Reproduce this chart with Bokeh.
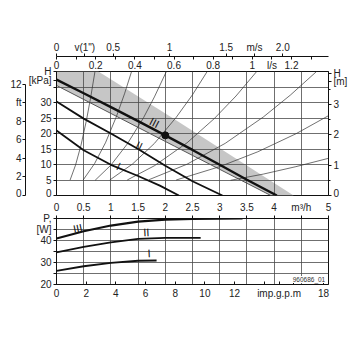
from bokeh.plotting import figure
from bokeh.models import Range1d, LinearAxis, FixedTicker, Label
from bokeh.layouts import column
from bokeh.embed import file_html
from bokeh.resources import INLINE
from bokeh.core.properties import value

FONT = "Liberation Sans"
FS = "10px"
INK = "#111111"

# ---------------- data ----------------
flow_ticks = [0, 0.5, 1, 1.5, 2, 2.5, 3, 3.5, 4, 4.5, 5]
flow_labels = ["0", "0.5", "1", "1.5", "2", "2.5", "3", "3.5", "4", "m³/h", "5"]
kpa_grid = [0, 5, 10, 15, 20, 25, 30, 35, 40]
kpa_ticks = [0, 5, 10, 15, 20, 25, 30, 35, 37, 40]
kpa_labels = ["0", "5", "10", "15", "20", "25", "30", "", "[kPa]", "H"]
ft_ticks = [0, 2, 4, 6, 8, 10, 12]
ft_labels = ["0", "2", "4", "6", "8", "ft", "12"]
m_ticks = [0, 1, 2, 3, 3.75, 4]
m_labels = ["0", "1", "2", "3", "[m]", "H"]
m_minor = [0.5, 1.5, 2.5, 3.5]
ls_ticks = [0, 0.2, 0.4, 0.6, 0.8, 1.0, 1.1, 1.2]
ls_labels = ["0", "0.2", "0.4", "0.6", "0.8", "1", "l/s", "1.2"]
ls_marks = [0, 0.1, 0.2, 0.3, 0.4, 0.5, 0.6, 0.7, 0.8, 0.9, 1.0, 1.1, 1.2, 1.3]
ms_ticks = [0, 0.25, 0.5, 1, 1.5, 1.75, 2]
ms_labels = ["0", 'v(1")', "0.5", "1", "1.5", "m/s", "2.0"]
p_ticks = [20, 25, 30, 35, 40, 45, 50]
p_labels = ["20", "", "30", "", "40", "[W]", "P,"]
gpm_ticks = [0, 2, 4, 6, 8, 10, 12, 14, 15, 16, 18]
gpm_labels = ["0", "2", "4", "6", "8", "10", "12", "", "imp.g.p.m", "", "18"]

# pump curves H [kPa] vs Q [m3/h]
q_III = [0, 0.5, 1.0, 1.5, 2.0, 2.5, 3.0, 3.5, 4.05]
h_III = [37.4, 33.0, 28.5, 24.0, 19.4, 14.7, 9.9, 5.1, 0]
q_II = [0, 0.5, 1.0, 1.5, 2.0, 2.5, 3.05]
h_II = [30.3, 24.8, 20.0, 15.0, 9.6, 4.6, 0]
q_I = [0, 0.5, 1.0, 1.5, 1.9, 2.25]
h_I = [21.0, 14.6, 9.9, 6.3, 3.2, 0]

# grey band
band_q = [0, 0.77, 2.17, 4.36, 3.94, 2.17, 0]
band_h = [40, 40, 24.6, 0, 0, 15.9, 35.5]
band_low_q = [0, 2.17, 3.94]
band_low_h = [35.5, 15.9, 0]

duty_q = [2.0]
duty_h = [19.4]

# thin system curves
sys_q = [
    [0.25, 0.35, 0.45, 0.55, 0.63, 0.707],
    [0.49, 0.7, 0.9, 1.1, 1.25, 1.38],
    [0.71, 1.0, 1.3, 1.6, 1.8, 2.02],
    [0.98, 1.4, 1.8, 2.2, 2.5, 2.77],
    [1.3, 1.8, 2.4, 2.9, 3.3, 3.68],
    [1.7, 2.4, 3.1, 3.8, 4.3, 4.78],
    [2.2, 3.0, 3.7, 4.4, 5.0],
    [3.2, 3.8, 4.4, 5.0],
]
sys_h = [
    [5.0, 9.8, 16.2, 24.2, 31.8, 40],
    [5.0, 10.3, 17.0, 25.4, 32.8, 40],
    [4.9, 9.8, 16.6, 25.1, 31.8, 40],
    [5.0, 10.2, 16.8, 25.2, 32.5, 40],
    [5.0, 9.6, 17.0, 24.8, 32.1, 40],
    [5.1, 10.1, 16.8, 25.3, 32.4, 40],
    [5.0, 9.3, 14.1, 19.9, 25.75],
    [4.9, 6.9, 9.3, 12.0],
]

lab_up_q = [1.8, 1.52, 1.14]
lab_up_h = [23.5, 16.1, 9.5]
lab_txt = ["III", "II", "I"]

# power curves P [W] vs Q [m3/h]
qp_III = [0, 0.5, 1.0, 1.5, 2.0, 2.5, 3.0, 3.42]
p_III = [40.9, 44.2, 46.8, 48.6, 49.5, 49.8, 49.9, 50.0]
qp_II = [0, 0.5, 1.0, 1.5, 2.0, 2.65]
p_II = [34.6, 37.1, 39.1, 40.7, 41.2, 41.2]
qp_I = [0, 0.5, 1.0, 1.5, 1.84]
p_I = [26.2, 28.3, 29.8, 30.8, 30.9]
lab_lo_q = [0.39, 1.65, 1.7]
lab_lo_p = [45.6, 43.8, 34.2]

code_txt = "960686_01"
code_q, code_p = 4.94, 22.3

# unit conversions
KPA_PER_FT = 2.989
KPA_PER_M = 9.807
M3H_PER_LS = 3.6
M3H_PER_MS = 2.08
M3H_PER_GPM = 0.2728


def style(ax, tick_out=3, tick_in=0, standoff=3, minor_out=0, minor_in=0, line=True, fs=FS):
    ax.axis_line_color = INK if line else None
    ax.axis_line_width = 1
    ax.major_tick_line_color = INK
    ax.minor_tick_line_color = INK
    ax.major_tick_out = tick_out
    ax.major_tick_in = tick_in
    ax.minor_tick_out = minor_out
    ax.minor_tick_in = minor_in
    ax.major_label_standoff = standoff
    ax.major_label_text_font = FONT
    ax.major_label_text_font_size = fs
    ax.major_label_text_color = "#222222"


def spacer(size, **rng):
    ax = LinearAxis(ticker=FixedTicker(ticks=[]), **rng)
    ax.axis_line_color = None
    ax.major_tick_line_color = None
    ax.minor_tick_line_color = None
    ax.major_tick_out = size
    ax.major_tick_in = 0
    ax.minor_tick_out = 0
    ax.minor_tick_in = 0
    ax.major_label_standoff = 0
    return ax


# ---------------- upper figure: head ----------------
up = figure(width=350, height=198, x_range=Range1d(0, 5), y_range=Range1d(0, 40),
            x_axis_location=None, y_axis_location="left",
            output_backend="svg", toolbar_location=None,
            min_border_left=56, min_border_right=20, min_border_top=71, min_border_bottom=3)
up.outline_line_color = INK
up.outline_line_width = 1
up.background_fill_color = "white"
up.border_fill_color = "white"
up.extra_y_ranges = {"ft": Range1d(0, 40 / KPA_PER_FT), "m": Range1d(0, 40 / KPA_PER_M)}
up.extra_x_ranges = {"ls": Range1d(0, 5 / M3H_PER_LS), "ms": Range1d(0, 5 / M3H_PER_MS)}

up.xgrid.ticker = FixedTicker(ticks=flow_ticks)
up.ygrid.ticker = FixedTicker(ticks=kpa_grid)
up.grid.grid_line_color = "#4a4a4a"
up.grid.grid_line_width = 0.8

kpa_ax = up.yaxis[0]
style(kpa_ax, standoff=2)
kpa_ax.ticker = FixedTicker(ticks=kpa_ticks)
kpa_ax.major_label_overrides = dict(zip(kpa_ticks, kpa_labels))

up.add_layout(spacer(4, y_range_name="ft"), "left")

ft_ax = LinearAxis(y_range_name="ft", ticker=FixedTicker(ticks=ft_ticks), bounds=(0, 12))
style(ft_ax, standoff=1)
ft_ax.major_label_overrides = dict(zip(ft_ticks, ft_labels))
up.add_layout(ft_ax, "left")

m_ax = LinearAxis(y_range_name="m", ticker=FixedTicker(ticks=m_ticks, minor_ticks=m_minor))
style(m_ax, standoff=2, minor_out=2)
m_ax.major_label_overrides = dict(zip(m_ticks, m_labels))
up.add_layout(m_ax, "right")

ls_ax = LinearAxis(x_range_name="ls", ticker=FixedTicker(ticks=ls_ticks))
style(ls_ax, tick_out=0, standoff=1, line=False)
ls_ax.major_tick_line_color = None
ls_ax.major_label_overrides = dict(zip(ls_ticks, ls_labels))
up.add_layout(ls_ax, "above")

up.add_layout(spacer(5, x_range_name="ls"), "above")

# shared scale line: m/s ticks point up, l/s ticks (as minor ticks) point down
ms_ax = LinearAxis(x_range_name="ms",
                   ticker=FixedTicker(ticks=ms_ticks,
                                      minor_ticks=[v * M3H_PER_LS / M3H_PER_MS for v in ls_marks]))
style(ms_ax, tick_out=3, standoff=1, minor_out=0, minor_in=3)
ms_ax.major_label_overrides = dict(zip(ms_ticks, ms_labels))
up.add_layout(ms_ax, "above")

up.patch(band_q, band_h, fill_color="#c6c6c6", line_color=None, level="image")
up.line(band_low_q, band_low_h, line_color="#555555", line_width=1)

for qs, hs in zip(sys_q, sys_h):
    up.line(qs, hs, line_color="#333333", line_width=0.7)

up.line(q_I, h_I, line_color=INK, line_width=1.8)
up.line(q_II, h_II, line_color=INK, line_width=1.8)
up.line(q_III, h_III, line_color=INK, line_width=2.4)
up.scatter(duty_q, duty_h, size=7, color=INK)

up.text(lab_up_q, lab_up_h, text=lab_txt, angle=[-0.48, -0.45, -0.45],
        text_font=value(FONT), text_font_size=value("11px"), text_color=INK,
        text_align="center", text_baseline="middle")

# ---------------- lower figure: power ----------------
lo = figure(width=350, height=152, x_range=Range1d(0, 5), y_range=Range1d(20, 50),
            x_axis_location="above", y_axis_location="left",
            output_backend="svg", toolbar_location=None,
            min_border_left=56, min_border_right=20, min_border_top=18, min_border_bottom=66)
lo.outline_line_color = INK
lo.outline_line_width = 1
lo.background_fill_color = "white"
lo.border_fill_color = "white"
lo.extra_x_ranges = {"gpm": Range1d(0, 5 / M3H_PER_GPM)}

lo.xgrid.ticker = FixedTicker(ticks=flow_ticks)
lo.ygrid.ticker = FixedTicker(ticks=p_ticks)
lo.grid.grid_line_color = "#4a4a4a"
lo.grid.grid_line_width = 0.8

q_ax = lo.xaxis[0]
style(q_ax, tick_out=3, standoff=3)
q_ax.ticker = FixedTicker(ticks=flow_ticks)
q_ax.major_label_overrides = dict(zip(flow_ticks, flow_labels))

p_ax = lo.yaxis[0]
style(p_ax, standoff=2)
p_ax.ticker = FixedTicker(ticks=p_ticks)
p_ax.major_label_overrides = dict(zip(p_ticks, p_labels))

lo.add_layout(spacer(15, x_range_name="gpm"), "below")
g_ax = LinearAxis(x_range_name="gpm", ticker=FixedTicker(ticks=gpm_ticks))
style(g_ax, tick_out=0, tick_in=3, standoff=3)
g_ax.major_label_overrides = dict(zip(gpm_ticks, gpm_labels))
lo.add_layout(g_ax, "below")

lo.line(qp_I, p_I, line_color=INK, line_width=1.8)
lo.line(qp_II, p_II, line_color=INK, line_width=1.8)
lo.line(qp_III, p_III, line_color=INK, line_width=2.2)
lo.text(lab_lo_q, lab_lo_p, text=lab_txt, angle=[0.2, 0.05, 0.05],
        text_font=value(FONT), text_font_size=value("11px"), text_color=INK,
        text_align="center", text_baseline="middle")
lo.add_layout(Label(x=code_q, y=code_p, text=code_txt, text_font=FONT, text_font_size="6.5px",
                    text_color="#333333", text_align="right", text_baseline="middle",
                    background_fill_color="white"))

layout = column(up, lo, spacing=0)
open("out.html", "w").write(file_html(layout, INLINE))
